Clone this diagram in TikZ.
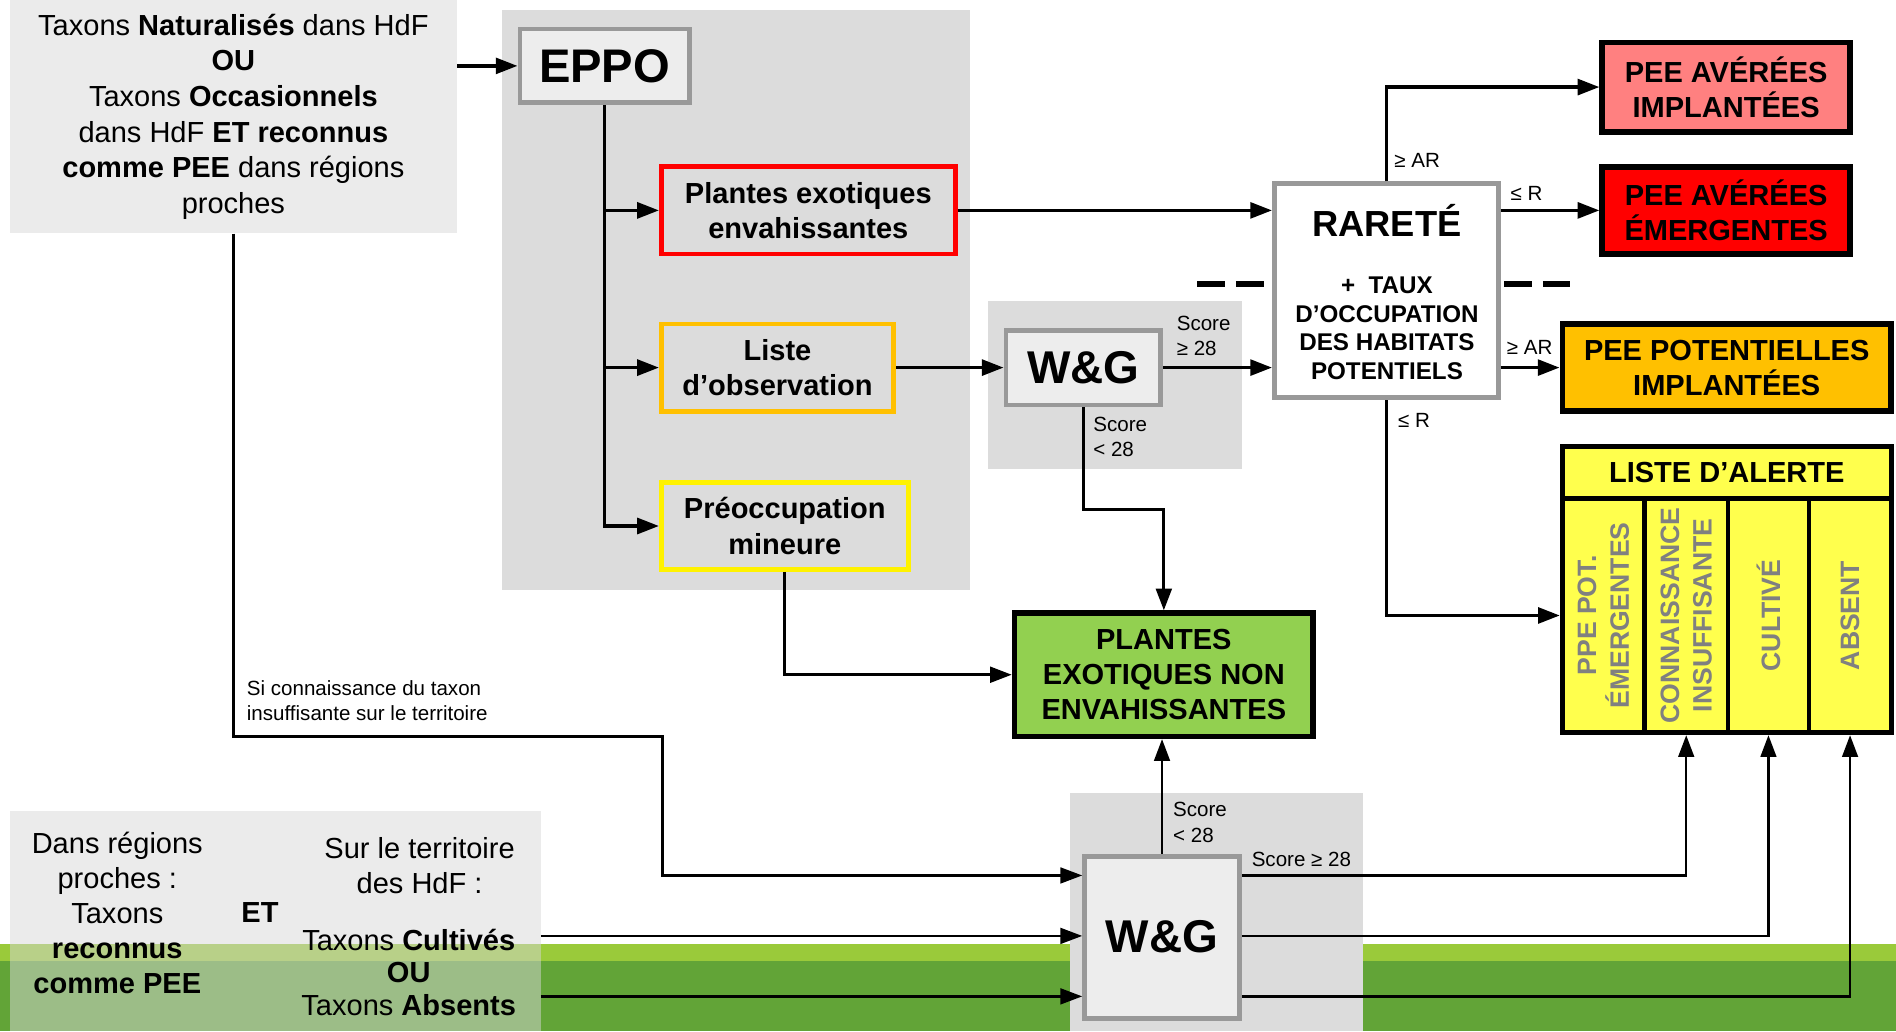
\documentclass[tikz,border=0pt]{standalone}
\usepackage{fontspec}
\setmainfont{Liberation Sans}
\usetikzlibrary{arrows.meta,calc}
\definecolor{panelgray}{HTML}{DCDCDC}
\definecolor{boxgray}{HTML}{EDEDED}
\definecolor{bordergray}{HTML}{999999}
\definecolor{lightbox}{HTML}{EBEBEB}
\definecolor{overlaygray}{HTML}{D7D7D7}
\definecolor{salmon}{HTML}{FF8080}
\definecolor{orangeY}{HTML}{FFC000}
\definecolor{alertY}{HTML}{FFFF4D}
\definecolor{greenbox}{HTML}{92D050}
\definecolor{stripeL}{HTML}{9ACA3A}
\definecolor{stripeD}{HTML}{62A437}
\definecolor{coltext}{HTML}{808080}
\newcommand\myfs[2]{\fontsize{#1}{#2}\selectfont}
\begin{document}
\begin{tikzpicture}[x=1pt,y=-1pt,
  every node/.style={inner sep=0pt},
  arr/.style={-{Triangle[length=18pt,width=13pt]}, line width=3pt},
  arrmid/.style={-{Triangle[length=18pt,width=13pt]}, line width=2.5pt},
  arrthin/.style={-{Triangle[length=18pt,width=13pt]}, line width=2pt},
  panel/.style={fill=panelgray, draw=none},
  graybox/.style={draw=bordergray, fill=boxgray, line width=4pt},
  outbox/.style={draw=black, line width=4.5pt, align=center, font=\myfs{24}{29}\bfseries},
  eppobox/.style={line width=4pt, align=center, font=\myfs{24}{29}\bfseries},
  colbox/.style={draw=black, fill=alertY, line width=4pt},
  coltxt/.style={rotate=90, align=center, text=coltext, font=\myfs{22}{27}\bfseries},
  lbl/.style={font=\myfs{17}{20.5}, align=left, anchor=west},
  dashline/.style={line width=5pt, dash pattern=on 23pt off 9pt}
]
\useasboundingbox (0,0) rectangle (1568,853);
% green stripe
\fill[stripeL] (0,781) rectangle (1568,795);
\fill[stripeD] (0,795) rectangle (1568,853);

% panels
\node[panel, minimum width=387pt, minimum height=480pt] (panel1) at (608.5,248) {};
\node[panel, minimum width=210pt, minimum height=139pt] (panel2) at (922,318.5) {};
\node[panel, minimum width=242pt, minimum height=197pt] (panel3) at (1006,754.5) {};

% top-left box
\node[fill=lightbox, minimum width=370pt, minimum height=193pt, align=center, font=\myfs{24}{29.4}] (topleft) at (193,96.5)
 {Taxons \textbf{Naturalisés} dans HdF\\\textbf{OU}\\Taxons \textbf{Occasionnels}\\dans HdF \textbf{ET reconnus}\\\textbf{comme PEE} dans régions\\proches};

% bottom-left box
\node[fill=overlaygray, fill opacity=0.5, minimum width=439pt, minimum height=182pt] (botleft) at (227.5,762) {};
\node[align=center, font=\myfs{24}{29}] (bltxt) at (97,755) {Dans régions\\proches :\\Taxons\\\textbf{reconnus}\\\textbf{comme PEE}};
\node[font=\myfs{24}{29}\bfseries] (et) at (215,755) {ET};
\node[align=center, font=\myfs{24}{29}] (brtxt1) at (347,715.5) {Sur le territoire\\des HdF :};
\node[align=center, font=\myfs{24}{27}] (brtxt2) at (338,804) {Taxons \textbf{Cultivés}\\\textbf{OU}\\Taxons \textbf{Absents}};

% EPPO column
\node[graybox, minimum width=140pt, minimum height=61pt, font=\myfs{39}{45}\bfseries] (eppo) at (500,54.5) {EPPO};
\node[eppobox, draw=red, minimum width=243pt, minimum height=72pt] (pee) at (668.5,174) {Plantes exotiques\\envahissantes};
\node[eppobox, draw=orangeY, minimum width=192pt, minimum height=72pt] (liste) at (643,304) {Liste\\d’observation};
\node[eppobox, draw=yellow, minimum width=204pt, minimum height=72pt] (preoc) at (649,435) {Préoccupation\\mineure};

% W&G boxes
\node[graybox, minimum width=128pt, minimum height=62pt, font=\myfs{38}{44}\bfseries] (wg1) at (896,304) {W\&G};
\node[graybox, minimum width=128pt, minimum height=134pt, font=\myfs{38}{44}\bfseries] (wg2) at (961,775) {W\&G};

% Rarete
\node[draw=bordergray, fill=white, line width=4pt, minimum width=185pt, minimum height=177pt] (rarete) at (1146.5,240.5) {};
\node[font=\myfs{30}{34}\bfseries] (rartitle) at (1147,182) {RARETÉ};
\node[align=center, font=\myfs{20}{23.7}\bfseries] (rarsub) at (1147,271.5) {+~~TAUX\\D’OCCUPATION\\DES HABITATS\\POTENTIELS};

% outcome boxes
\node[outbox, fill=greenbox, minimum width=247pt, minimum height=102pt] (penon) at (962.5,558) {PLANTES\\EXOTIQUES NON\\ENVAHISSANTES};
\node[outbox, fill=salmon, minimum width=205pt, minimum height=74pt] (avimpl) at (1427.5,72) {PEE AVÉRÉES\\IMPLANTÉES};
\node[outbox, fill=red, minimum width=205pt, minimum height=72pt] (avemer) at (1427.5,174) {PEE AVÉRÉES\\ÉMERGENTES};
\node[outbox, fill=orangeY, minimum width=272pt, minimum height=72pt] (potimpl) at (1428,304) {PEE POTENTIELLES\\IMPLANTÉES};

% liste d'alerte
\node[colbox, minimum width=68pt, minimum height=194pt] (col1) at (1326,509) {};
\node[colbox, minimum width=69pt, minimum height=194pt] (col2) at (1394.5,509) {};
\node[colbox, minimum width=67pt, minimum height=194pt] (col3) at (1462.5,509) {};
\node[colbox, minimum width=68pt, minimum height=194pt] (col4) at (1530,509) {};
\node[colbox, minimum width=272pt, minimum height=43pt, font=\myfs{24}{29}\bfseries] (alerte) at (1428,390.5) {LISTE D’ALERTE};
\node[coltxt] (c1t) at (col1.center) {PPE POT.\\ÉMERGENTES};
\node[coltxt] (c2t) at (col2.center) {CONNAISSANCE\\INSUFFISANTE};
\node[coltxt] (c3t) at (col3.center) {CULTIVÉ};
\node[coltxt] (c4t) at (col4.center) {ABSENT};

% dashed separators
\draw[dashline] (990,235) -- (1046,235);
\draw[dashline] (1244,235) -- (1298,235);

% helper coordinates
\coordinate (r1) at (0,724);
\coordinate (r2) at (0,774);
\coordinate (r3) at (0,824);
\coordinate (k1) at (193,609);
\coordinate (k2) at (548,609);

% connectors
\draw[arr] (topleft.east |- eppo.west) -- (eppo.west);
\draw[arr] (eppo.south) |- (pee.west);
\draw[arr] (eppo.south) |- (liste.west);
\draw[arr] (eppo.south) |- (preoc.west);
\draw[arr] (pee.east) -- (pee.east -| rarete.west);
\draw[arr] (liste.east) -- (wg1.west);
\draw[arr] (wg1.east) -- (wg1.east -| rarete.west);
\draw[arrmid] (wg1.south) -- ++(0,84) -| (penon.north);
\draw[arrmid] (preoc.south) |- (penon.west);
\draw[arr] (rarete.north) |- (avimpl.west);
\draw[arr] (rarete.east |- avemer.west) -- (avemer.west);
\draw[arr] (rarete.east |- potimpl.west) -- (potimpl.west);
\draw[arr] (rarete.south) |- (col1.west);

\draw[arrthin] (topleft.south) -- (k1) -- (k2) |- (wg2.west |- r1);
\draw[arrthin] (botleft.east |- r2) -- (wg2.west |- r2);
\draw[arrthin] (botleft.east |- r3) -- (wg2.west |- r3);
\draw[arrthin] (wg2.north) -- (wg2.north |- penon.south);
\draw[arrthin] (wg2.east |- r1) -| (col2.south);
\draw[arrthin] (wg2.east |- r2) -| (col3.south);
\draw[arrthin] (wg2.east |- r3) -| (col4.south);

% labels
\node[lbl] (l1) at (973,278) {Score\\≥ 28};
\node[lbl] (l2) at (904,361.5) {Score\\< 28};
\node[lbl] (l3) at (1153,133) {≥ AR};
\node[lbl] (l4) at (1249,160) {≤ R};
\node[lbl] (l5) at (1246,287) {≥ AR};
\node[lbl] (l6) at (1156,348) {≤ R};
\node[lbl, font=\myfs{17}{21}] (l7) at (204,579.5) {Si connaissance du taxon\\insuffisante sur le territoire};
\node[lbl, font=\myfs{17}{22}] (l8) at (970,680) {Score\\< 28};
\node[lbl] (l9) at (1035,711) {Score ≥ 28};
\end{tikzpicture}
\end{document}
